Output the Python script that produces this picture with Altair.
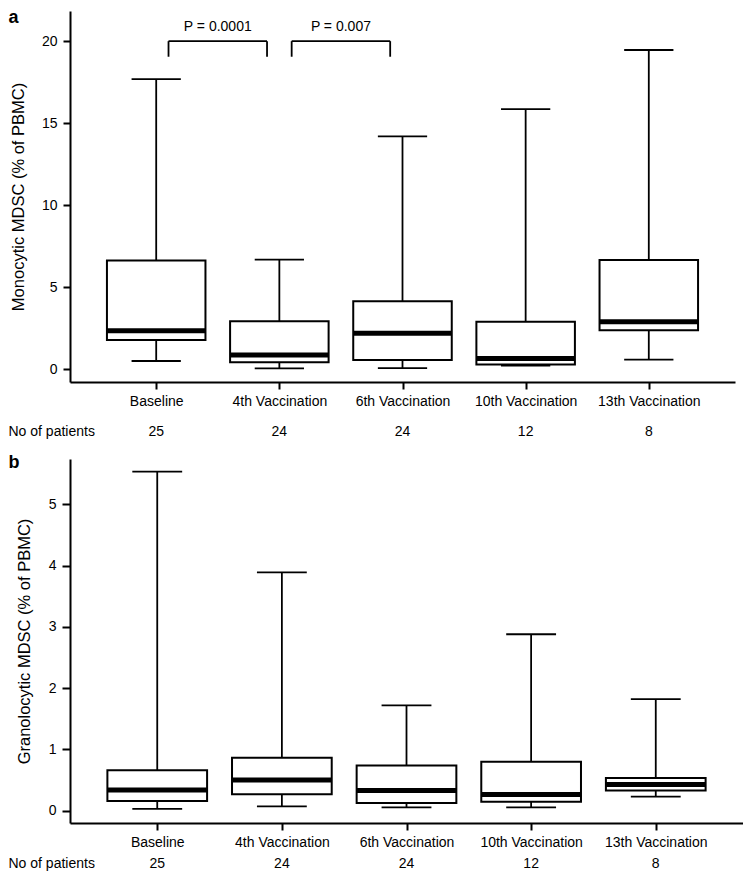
import json
import altair as alt
import pandas as pd

FONT = "Liberation Sans"

# ---------------- data ----------------
categories = ["Baseline", "4th Vaccination", "6th Vaccination", "10th Vaccination", "13th Vaccination"]
positions = [1, 2, 3, 4, 5]
patients = [25, 24, 24, 12, 8]
row_label = "No of patients"

# Panel a: Monocytic MDSC (% of PBMC)
mono_low = [0.49, 0.04, 0.06, 0.21, 0.57]
mono_q1 = [1.77, 0.41, 0.55, 0.27, 2.36]
mono_med = [2.34, 0.85, 2.18, 0.65, 2.89]
mono_q3 = [6.62, 2.91, 4.13, 2.89, 6.65]
mono_high = [17.69, 6.68, 14.19, 15.85, 19.46]

# Panel b: Granulocytic MDSC (% of PBMC)
gran_low = [0.03, 0.07, 0.055, 0.055, 0.23]
gran_q1 = [0.16, 0.27, 0.125, 0.145, 0.33]
gran_med = [0.34, 0.50, 0.33, 0.265, 0.43]
gran_q3 = [0.66, 0.865, 0.74, 0.80, 0.535]
gran_high = [5.535, 3.89, 1.72, 2.88, 1.82]

# significance brackets (panel a)
bracket_from = [1, 2]
bracket_to = [2, 3]
bracket_labels = ["P = 0.0001", "P = 0.007"]
bracket_level = 20.0

mono_title = "Monocytic MDSC (% of PBMC)"
gran_title = "Granolocytic MDSC (% of PBMC)"
mono_ticks = [0, 5, 10, 15, 20]
gran_ticks = [0, 1, 2, 3, 4, 5]


def make_panel(low, q1, med, q3, high, ytitle, ydomain, yticks, width, height,
               letter, letter_y, pat_y, ytick_size, title_pad, brackets=False):
    df = pd.DataFrame({"pos": positions, "cat": categories, "n": patients,
                       "low": low, "q1": q1, "med": med, "q3": q3, "high": high})
    xs = alt.Scale(domain=[0.3, 5.7], nice=False, zero=False)
    ys = alt.Scale(domain=ydomain, nice=False, zero=False)
    label_expr = json.dumps(categories) + "[datum.value - 1]"
    xaxis = alt.Axis(values=positions, labelExpr=label_expr, title=None, grid=False,
                     tickSize=7, tickWidth=2, tickColor="black",
                     domainColor="black", domainWidth=2,
                     labelFont=FONT, labelFontSize=14, labelColor="black",
                     labelPadding=5, labelFlush=False, labelOverlap=False)
    yaxis = alt.Axis(values=yticks, title=ytitle, grid=False, format="d",
                     tickSize=ytick_size, tickWidth=2, tickColor="black",
                     domainColor="black", domainWidth=2,
                     labelFont=FONT, labelFontSize=14, labelColor="black",
                     labelPadding=6, labelFlush=False, labelOverlap=False,
                     titleFont=FONT, titleFontSize=16.5, titleFontWeight="normal",
                     titleColor="black", titlePadding=title_pad)

    def X(field):
        return alt.X(f"{field}:Q", scale=xs, axis=xaxis)

    def Y(field):
        return alt.Y(f"{field}:Q", scale=ys, axis=yaxis)

    base = alt.Chart(df).transform_calculate(
        xl="datum.pos - 0.4", xr="datum.pos + 0.4",
        cl="datum.pos - 0.2", cr="datum.pos + 0.2")

    whisk = base.mark_rule(color="black", strokeWidth=1.8).encode(
        x=X("pos"), y=Y("low"), y2="high:Q")
    box = base.mark_rect(fill="white", stroke="black", strokeWidth=2).encode(
        x=X("xl"), x2="xr:Q", y=Y("q1"), y2="q3:Q")
    median = base.mark_rule(color="black", strokeWidth=5).encode(
        x=X("xl"), x2="xr:Q", y=Y("med"))
    cap_hi = base.mark_rule(color="black", strokeWidth=1.8).encode(
        x=X("cl"), x2="cr:Q", y=Y("high"))
    cap_lo = base.mark_rule(color="black", strokeWidth=1.8).encode(
        x=X("cl"), x2="cr:Q", y=Y("low"))
    counts = base.mark_text(font=FONT, fontSize=14, color="black", align="center",
                            baseline="alphabetic").encode(
        x=X("pos"), y=alt.value(pat_y), text="n:N")
    row = alt.Chart(pd.DataFrame({"t": [row_label]})).mark_text(
        font=FONT, fontSize=14, color="black", align="left", baseline="alphabetic").encode(
        x=alt.value(-61.5), y=alt.value(pat_y), text="t:N")
    let = alt.Chart(pd.DataFrame({"t": [letter]})).mark_text(
        font=FONT, fontSize=18, fontWeight="bold", color="black", align="left",
        baseline="alphabetic").encode(
        x=alt.value(-61.5), y=alt.value(letter_y), text="t:N")

    layers = [whisk, box, median, cap_hi, cap_lo, counts, row, let]

    if brackets:
        bdf = pd.DataFrame({"a": bracket_from, "b": bracket_to, "p": bracket_labels,
                            "lvl": [bracket_level] * len(bracket_labels)})
        bb = alt.Chart(bdf).transform_calculate(
            l="datum.a + 0.1", r="datum.b - 0.1", m="(datum.a + datum.b) / 2",
            leg="datum.lvl - 0.95")
        top = bb.mark_rule(color="black", strokeWidth=1.8).encode(
            x=X("l"), x2="r:Q", y=Y("lvl"))
        leg_l = bb.mark_rule(color="black", strokeWidth=1.8).encode(
            x=X("l"), y=Y("leg"), y2="lvl:Q")
        leg_r = bb.mark_rule(color="black", strokeWidth=1.8).encode(
            x=X("r"), y=Y("leg"), y2="lvl:Q")
        ptxt = bb.mark_text(font=FONT, fontSize=14, color="black", align="center",
                            baseline="alphabetic", dy=-10.5).encode(
            x=X("m"), y=Y("lvl"), text="p:N")
        layers += [top, leg_l, leg_r, ptxt]

    return alt.layer(*layers).properties(width=width, height=height)


panel_a = make_panel(mono_low, mono_q1, mono_med, mono_q3, mono_high, mono_title,
                     [-0.79, 21.84], mono_ticks, 665, 371, "a", 11.5, 425, 7, 15,
                     brackets=True)
panel_b = make_panel(gran_low, gran_q1, gran_med, gran_q3, gran_high, gran_title,
                     [-0.2, 5.74], gran_ticks, 673, 364, "b", 9, 409, 8, 16)

chart = alt.vconcat(panel_a, panel_b, spacing=77, bounds="flush").properties(
    padding=0, background="white").configure_view(stroke=None)

chart.save("out.html", embed_options={"renderer": "svg", "actions": False})
